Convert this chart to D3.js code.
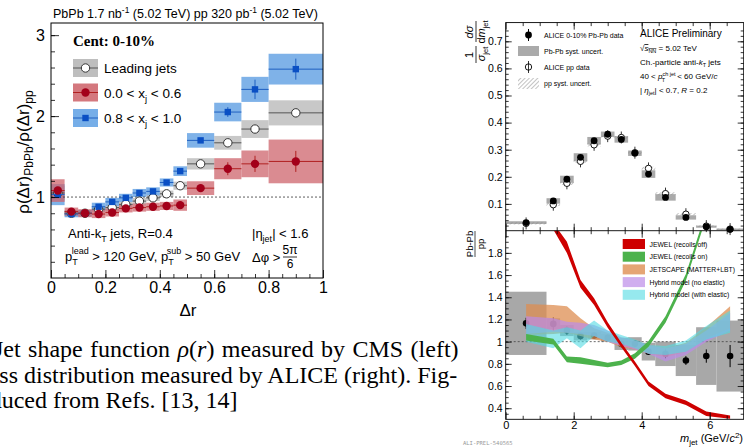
<!DOCTYPE html>
<html>
<head>
<meta charset="utf-8">
<script src="https://cdn.jsdelivr.net/npm/d3@7"></script>
<style>
body{margin:0;background:#fff;overflow:hidden;}
svg{display:block;font-family:"Liberation Sans",Arial,sans-serif;}
</style>
</head>
<body>
<script>
// ---------- CMS jet shape ratio (left) ----------
var drEdges = [0,0.05,0.1,0.15,0.2,0.25,0.3,0.35,0.4,0.45,0.5,0.6,0.7,0.8,1.0];
var leadVals = [1.05,0.80,0.80,0.85,0.87,0.91,0.95,0.99,1.04,1.14,1.41,1.67,1.84,2.04];
var leadSyst = [0.09,0.04,0.04,0.04,0.04,0.04,0.04,0.04,0.04,0.05,0.07,0.085,0.11,0.155];
var leadStat = [0.02,0.01,0.01,0.01,0.01,0.01,0.01,0.01,0.015,0.02,0.025,0.03,0.04,0.05];
var lowXjVals = [1.08,0.82,0.80,0.79,0.81,0.86,0.87,0.88,0.89,0.90,1.11,1.35,1.41,1.44];
var lowXjSyst = [0.14,0.05,0.05,0.05,0.05,0.05,0.05,0.05,0.05,0.07,0.085,0.13,0.165,0.27];
var lowXjStat = [0.03,0.02,0.02,0.02,0.02,0.02,0.02,0.02,0.02,0.025,0.04,0.08,0.10,0.13];
var highXjVals = [1.03,0.79,0.80,0.88,0.94,0.99,1.05,1.07,1.18,1.32,1.70,2.05,2.33,2.58];
var highXjSyst = [0.13,0.04,0.04,0.05,0.05,0.05,0.05,0.05,0.05,0.06,0.09,0.115,0.155,0.19];
var highXjStat = [0.03,0.01,0.01,0.015,0.015,0.015,0.015,0.02,0.02,0.025,0.03,0.06,0.12,0.13];
var drTicks = [0,0.2,0.4,0.6,0.8,1];
var rhoTicks = [1,2,3];

// ---------- ALICE jet mass (right) ----------
var mEdges = [0,1.2,1.6,2.0,2.4,2.8,3.2,3.6,4.0,4.4,5.0,5.6,6.2,7.0];
var mCenters = [0.6,1.4,1.8,2.2,2.6,3.0,3.4,3.8,4.2,4.7,5.3,5.9,6.6];
var pbpbVals = [0.031,0.111,0.191,0.272,0.333,0.357,0.338,0.287,0.210,0.124,0.050,0.016,0.006];
var pbpbSyst = [0.005,0.010,0.013,0.015,0.014,0.010,0.012,0.010,0.014,0.012,0.008,0.004,0.003];
var ppVals = [0.028,0.097,0.176,0.257,0.318,0.350,0.345,0.289,0.231,0.138,0.062,0.018,0.007];
var ppSyst = [0.004,0.005,0.006,0.006,0.006,0.005,0.005,0.005,0.006,0.005,0.004,0.003,0.002];
var ratioVals = [1.165,1.16,1.10,1.05,1.055,1.035,0.98,0.98,0.91,0.89,0.83,0.87,0.87];
var ratioStat = [0.05,0.06,0.04,0.03,0.03,0.03,0.03,0.03,0.03,0.04,0.04,0.06,0.10];
var ratioSyst = [0.285,0.05,0.05,0.04,0.035,0.035,0.055,0.06,0.08,0.11,0.14,0.26,0.32];

var jewelOffMass = [1.4,1.8,2.2,2.6,3.0,3.4,3.8,4.2,4.7,5.3,5.9,6.6];
var jewelOffVals = [2.04,1.85,1.52,1.36,1.15,0.97,0.80,0.62,0.51,0.45,0.35,0.32];
var jewelOffHalf = [0.03,0.05,0.035,0.03,0.025,0.02,0.02,0.02,0.02,0.02,0.02,0.015];
var jewelOnMass = [0.6,1.4,1.8,2.2,2.6,3.0,3.4,3.8,4.2,4.7,5.3,5.9];
var jewelOnVals = [1.04,1.0,0.84,0.83,0.81,0.79,0.81,0.87,0.98,1.2,1.58,2.15];
var jewelOnHalf = [0.03,0.025,0.025,0.03,0.025,0.02,0.02,0.025,0.025,0.03,0.03,0.03];
var jetscapeVals = [1.2,1.2,1.2,1.13,1.07,1.04,0.99,0.97,0.93,0.9,0.95,1.08,1.22];
var jetscapeHalf = [0.14,0.13,0.12,0.08,0.05,0.04,0.04,0.04,0.04,0.04,0.04,0.05,0.1];
var hybridVals = [1.15,1.15,1.13,1.12,1.1,1.05,1.0,0.97,0.93,0.88,0.93,1.05,1.18];
var hybridHalf = [0.08,0.06,0.05,0.05,0.05,0.05,0.04,0.04,0.04,0.06,0.05,0.05,0.08];
var hybridElVals = [1.08,1.02,1.08,1.02,1.12,1.05,1.02,0.98,0.93,0.92,0.96,1.08,1.18];
var hybridElHalf = [0.08,0.08,0.05,0.08,0.07,0.05,0.04,0.04,0.04,0.04,0.05,0.06,0.1];
var massTicks = [0,2,4,6];
var topTicks = [0.1,0.2,0.3,0.4,0.5,0.6,0.7];
var ratioTicks = [0.4,0.6,0.8,1,1.2,1.4,1.6,1.8];

var svg = d3.select("body").append("svg").attr("width",744).attr("height",447);
var fmt = d3.format("~g");

var defs = svg.append("defs");
var pat = defs.append("pattern").attr("id","hatch").attr("patternUnits","userSpaceOnUse")
	.attr("width",3).attr("height",3).attr("patternTransform","rotate(45)");
pat.append("line").attr("x1",0).attr("y1",0).attr("x2",0).attr("y2",3).attr("stroke","#888").attr("stroke-width",1);

// inward ROOT-like ticks
function ticks(g, axis, tr, values, len, f, fs, pad){
	axis.tickValues(values).tickSize(-len).tickPadding(pad || 3)
		.tickFormat(f ? f : function(){ return ""; });
	var t = g.append("g").attr("transform", tr).call(axis);
	t.select(".domain").remove();
	t.selectAll("line").attr("stroke","#000").attr("stroke-width",0.8);
	t.selectAll("text").attr("fill","#000").style("font-size", fs + "px")
		.style("font-family","Liberation Sans, Arial, sans-serif");
	return t;
}

function sub(t, s, fs, dy){
	t.append("tspan").attr("dy",dy).style("font-size",fs+"px").text(s);
}

/* ===================== left chart ===================== */
var xL = d3.scaleLinear().domain([0,1]).range([51,323]);
var yL = d3.scaleLinear().domain([0,3.15]).range([278,23]);
var gL = svg.append("g");

var bins = d3.range(drEdges.length - 1).map(function(i){ return [drEdges[i], drEdges[i+1]]; });

function boxes(vals, syst, col){
	gL.append("g").selectAll("rect").data(vals).join("rect")
		.attr("x", function(d,i){ return xL(bins[i][0]); })
		.attr("width", function(d,i){ return xL(bins[i][1]) - xL(bins[i][0]); })
		.attr("y", function(d,i){ return yL(d + syst[i]); })
		.attr("height", function(d,i){ return yL(d - syst[i]) - yL(d + syst[i]); })
		.attr("fill", col);
}
boxes(leadVals, leadSyst, "rgba(190,190,190,0.85)");
boxes(highXjVals, highXjSyst, "rgba(105,165,228,0.85)");
boxes(lowXjVals, lowXjSyst, "rgba(205,100,108,0.75)");

gL.append("line").attr("x1",xL(0)).attr("x2",xL(1)).attr("y1",yL(1)).attr("y2",yL(1))
	.attr("stroke","#333").attr("stroke-width",0.8).attr("stroke-dasharray","2,2");

function points(vals, stat, lineCol, shape, fill, stroke){
	var g = gL.append("g");
	g.selectAll("line.h").data(vals).join("line").attr("class","h")
		.attr("x1", function(d,i){ return xL(bins[i][0]); })
		.attr("x2", function(d,i){ return xL(bins[i][1]); })
		.attr("y1", function(d){ return yL(d); }).attr("y2", function(d){ return yL(d); })
		.attr("stroke", lineCol).attr("stroke-width",1);
	g.selectAll("line.v").data(vals).join("line").attr("class","v")
		.attr("x1", function(d,i){ return xL((bins[i][0]+bins[i][1])/2); })
		.attr("x2", function(d,i){ return xL((bins[i][0]+bins[i][1])/2); })
		.attr("y1", function(d,i){ return yL(d + stat[i]); })
		.attr("y2", function(d,i){ return yL(d - stat[i]); })
		.attr("stroke", lineCol).attr("stroke-width",1);
	if(shape == "square"){
		g.selectAll("rect").data(vals).join("rect")
			.attr("x", function(d,i){ return xL((bins[i][0]+bins[i][1])/2) - 3.2; })
			.attr("y", function(d){ return yL(d) - 3.2; })
			.attr("width",6.4).attr("height",6.4).attr("fill",fill);
	} else {
		g.selectAll("circle").data(vals).join("circle")
			.attr("cx", function(d,i){ return xL((bins[i][0]+bins[i][1])/2); })
			.attr("cy", function(d){ return yL(d); })
			.attr("r",4.2).attr("fill",fill).attr("stroke",stroke).attr("stroke-width",1);
	}
}
points(leadVals, leadStat, "#555", "circle", "#fff", "#333");
points(highXjVals, highXjStat, "#1f5fc0", "square", "#0a4fc4", "none");
points(lowXjVals, lowXjStat, "#b02020", "circle", "#a3001a", "none");

ticks(gL, d3.axisBottom(xL), "translate(0,278)", drTicks, 8, fmt, 16, 4);
ticks(gL, d3.axisBottom(xL), "translate(0,278)", d3.range(0.05,1,0.05), 4, null, 16);
ticks(gL, d3.axisLeft(yL), "translate(51,0)", rhoTicks, 8, fmt, 16, 6);
ticks(gL, d3.axisLeft(yL), "translate(51,0)", d3.range(0.2,3.1,0.2), 4, null, 16);
gL.append("rect").attr("x",51).attr("y",23).attr("width",272).attr("height",255)
	.attr("fill","none").attr("stroke","#000").attr("stroke-width",1);

// title and labels
var tt = gL.append("text").attr("x",53).attr("y",18).style("font-size","12.5px");
tt.append("tspan").text("PbPb 1.7 nb");
sub(tt, "-1", 8.5, -5);
tt.append("tspan").attr("dy",5).text(" (5.02 TeV)  pp 320 pb");
sub(tt, "-1", 8.5, -5);
tt.append("tspan").attr("dy",5).text(" (5.02 TeV)");

gL.append("text").attr("x",188).attr("y",316).attr("text-anchor","middle").style("font-size","17px").text("Δr");

var yt = gL.append("text").attr("transform","translate(29,152) rotate(-90)").attr("text-anchor","middle").style("font-size","17px");
yt.append("tspan").text("ρ(Δr)");
sub(yt, "PbPb", 12, 4);
yt.append("tspan").attr("dy",-4).text("/ρ(Δr)");
sub(yt, "pp", 12, 4);

gL.append("text").attr("x",73).attr("y",46).style("font-family","Liberation Serif, serif")
	.style("font-weight","bold").style("font-size","15px").text("Cent: 0-10%");

var legL = [
	{label:"Leading jets", fill:"rgb(190,190,190)", line:"#555", shape:"circle", mk:"#fff", st:"#333", y:68},
	{label:"0.0 < x", sub:"j", tail:" < 0.6", fill:"rgb(212,120,126)", line:"#b02020", shape:"circle", mk:"#a3001a", st:"none", y:92.5},
	{label:"0.8 < x", sub:"j", tail:" < 1.0", fill:"rgb(118,174,232)", line:"#1f5fc0", shape:"square", mk:"#0a4fc4", st:"none", y:118}
];
legL.forEach(function(e){
	gL.append("rect").attr("x",73).attr("y",e.y-9).attr("width",25).attr("height",18).attr("fill",e.fill);
	gL.append("line").attr("x1",73).attr("x2",98).attr("y1",e.y).attr("y2",e.y).attr("stroke",e.line);
	if(e.shape == "square") gL.append("rect").attr("x",82.3).attr("y",e.y-3.2).attr("width",6.4).attr("height",6.4).attr("fill",e.mk);
	else gL.append("circle").attr("cx",85.5).attr("cy",e.y).attr("r",4.2).attr("fill",e.mk).attr("stroke",e.st);
	var t = gL.append("text").attr("x",104).attr("y",e.y+5).style("font-size","13.5px").text(e.label);
	if(e.sub){
		sub(t, e.sub, 9.5, 4);
		t.append("tspan").attr("dy",-4).text(e.tail);
	}
});

var t1 = gL.append("text").attr("x",68).attr("y",238).style("font-size","13px");
t1.append("tspan").text("Anti-k");
sub(t1, "T", 9, 4);
t1.append("tspan").attr("dy",-4).text(" jets, R=0.4");

var t2 = gL.append("text").attr("x",65).attr("y",261).style("font-size","13px");
t2.append("tspan").text("p");
sub(t2, "T", 9, 4);
t2.append("tspan").attr("dy",-11).attr("dx",-6).style("font-size","9px").text("lead");
t2.append("tspan").attr("dy",7).text(" > 120 GeV, p");
sub(t2, "T", 9, 4);
t2.append("tspan").attr("dy",-11).attr("dx",-6).style("font-size","9px").text("sub");
t2.append("tspan").attr("dy",7).text(" > 50 GeV");

var t3 = gL.append("text").attr("x",252).attr("y",238).style("font-size","13px");
t3.append("tspan").text("|η");
sub(t3, "jet", 9, 4);
t3.append("tspan").attr("dy",-4).text("| < 1.6");

gL.append("text").attr("x",252).attr("y",262).style("font-size","13px").text("Δφ >");
gL.append("text").attr("x",290).attr("y",254).attr("text-anchor","middle").style("font-size","12px").text("5π");
gL.append("line").attr("x1",283).attr("x2",297).attr("y1",257).attr("y2",257).attr("stroke","#000").attr("stroke-width",0.8);
gL.append("text").attr("x",290).attr("y",268).attr("text-anchor","middle").style("font-size","12px").text("6");

/* ===================== caption ===================== */
var cap = svg.append("g").style("font-family","Liberation Serif, 'Times New Roman', serif").style("font-size","24px");
var c1 = cap.append("text").attr("x",-6).attr("y",357).style("word-spacing","1.4px");
c1.append("tspan").text("Jet shape function ");
c1.append("tspan").style("font-style","italic").text("ρ");
c1.append("tspan").text("(");
c1.append("tspan").style("font-style","italic").text("r");
c1.append("tspan").text(") measured by CMS (left)");
cap.append("text").attr("x",-30).attr("y",383).text("mass distribution measured by ALICE (right). Fig-");
cap.append("text").attr("x",-61).attr("y",408).text("reproduced from Refs. [13, 14]");

/* ===================== right chart ===================== */
var xm = d3.scaleLinear().domain([0,7]).range([505.7,743.7]);
var yTop = d3.scaleLinear().domain([0,0.769]).range([231,22.6]);
var yBot = d3.scaleLinear().domain([0.3,2.0]).range([419.3,230.7]);
var gR = svg.append("g");

defs.append("clipPath").attr("id","clipBot").append("rect")
	.attr("x",505.7).attr("y",230.7).attr("width",238).attr("height",188.6);

var mBins = d3.range(mEdges.length - 1).map(function(i){ return [mEdges[i], mEdges[i+1]]; });

// top panel: spectra
var gt = gR.append("g");
gt.selectAll("rect.pb").data(pbpbVals).join("rect").attr("class","pb")
	.attr("x", function(d,i){ return xm(mBins[i][0]); })
	.attr("width", function(d,i){ return xm(mBins[i][1]) - xm(mBins[i][0]); })
	.attr("y", function(d,i){ return yTop(d + pbpbSyst[i]); })
	.attr("height", function(d,i){ return yTop(d - pbpbSyst[i]) - yTop(d + pbpbSyst[i]); })
	.attr("fill","#aaaaaa");
gt.selectAll("rect.pp").data(ppVals).join("rect").attr("class","pp")
	.attr("x", function(d,i){ return xm(mBins[i][0]); })
	.attr("width", function(d,i){ return xm(mBins[i][1]) - xm(mBins[i][0]); })
	.attr("y", function(d,i){ return yTop(d + ppSyst[i]); })
	.attr("height", function(d,i){ return yTop(d - ppSyst[i]) - yTop(d + ppSyst[i]); })
	.attr("fill","url(#hatch)");
gt.selectAll("line.ppv").data(ppVals).join("line").attr("class","ppv")
	.attr("x1", function(d,i){ return xm(mCenters[i]); }).attr("x2", function(d,i){ return xm(mCenters[i]); })
	.attr("y1", function(d){ return yTop(d) - 6; }).attr("y2", function(d){ return yTop(d) + 6; })
	.attr("stroke","#000").attr("stroke-width",0.8);
gt.selectAll("circle.pp").data(ppVals).join("circle").attr("class","pp")
	.attr("cx", function(d,i){ return xm(mCenters[i]); }).attr("cy", function(d){ return yTop(d); })
	.attr("r",3.2).attr("fill","#fff").attr("stroke","#000").attr("stroke-width",0.9);
gt.selectAll("circle.pb").data(pbpbVals).join("circle").attr("class","pb")
	.attr("cx", function(d,i){ return xm(mCenters[i]); }).attr("cy", function(d){ return yTop(d); })
	.attr("r",3.4).attr("fill","#000");

// bottom panel: ratio and models
var gb = gR.append("g").attr("clip-path","url(#clipBot)");
gb.selectAll("rect").data(ratioVals).join("rect")
	.attr("x", function(d,i){ return xm(mBins[i][0]); })
	.attr("width", function(d,i){ return xm(mBins[i][1]) - xm(mBins[i][0]); })
	.attr("y", function(d,i){ return yBot(d + ratioSyst[i]); })
	.attr("height", function(d,i){ return yBot(d - ratioSyst[i]) - yBot(d + ratioSyst[i]); })
	.attr("fill","#a8a8a8");
gb.append("line").attr("x1",xm(0)).attr("x2",xm(7)).attr("y1",yBot(1)).attr("y2",yBot(1))
	.attr("stroke","#444").attr("stroke-width",0.8).attr("stroke-dasharray","2,2");
gb.selectAll("line.err").data(ratioVals).join("line").attr("class","err")
	.attr("x1", function(d,i){ return xm(mCenters[i]); }).attr("x2", function(d,i){ return xm(mCenters[i]); })
	.attr("y1", function(d,i){ return yBot(d + ratioStat[i]); })
	.attr("y2", function(d,i){ return yBot(d - ratioStat[i]); })
	.attr("stroke","#000").attr("stroke-width",1);
gb.selectAll("circle").data(ratioVals).join("circle")
	.attr("cx", function(d,i){ return xm(mCenters[i]); }).attr("cy", function(d){ return yBot(d); })
	.attr("r",3.3).attr("fill","#000");

function band(mass, vals, half, col, op){
	var area = d3.area()
		.x(function(d,i){ return xm(mass[i]); })
		.y0(function(d,i){ return yBot(d - half[i]); })
		.y1(function(d,i){ return yBot(d + half[i]); });
	gb.append("path").datum(vals).attr("d", area).attr("fill", col).attr("fill-opacity", op);
}
band(mCenters, jetscapeVals, jetscapeHalf, "rgb(222,142,82)", 0.75);
band(mCenters, hybridVals, hybridHalf, "rgb(188,140,232)", 0.7);
band(mCenters, hybridElVals, hybridElHalf, "rgb(80,218,226)", 0.6);
band(jewelOnMass, jewelOnVals, jewelOnHalf, "rgb(76,178,76)", 1);
band(jewelOffMass, jewelOffVals, jewelOffHalf, "rgb(206,0,0)", 1);

// axes
ticks(gR, d3.axisLeft(yTop), "translate(505.7,0)", topTicks, 6, fmt, 10.5, 3);
ticks(gR, d3.axisLeft(yTop), "translate(505.7,0)", d3.range(0.02,0.76,0.02), 3, null, 10);
ticks(gR, d3.axisRight(yTop), "translate(743.7,0)", topTicks, 6, null, 10);
ticks(gR, d3.axisRight(yTop), "translate(743.7,0)", d3.range(0.02,0.76,0.02), 3, null, 10);
ticks(gR, d3.axisLeft(yBot), "translate(505.7,0)", ratioTicks, 6, fmt, 10.5, 3);
ticks(gR, d3.axisLeft(yBot), "translate(505.7,0)", d3.range(0.35,1.99,0.05), 3, null, 10);
ticks(gR, d3.axisRight(yBot), "translate(743.7,0)", ratioTicks, 6, null, 10);
ticks(gR, d3.axisRight(yBot), "translate(743.7,0)", d3.range(0.35,1.99,0.05), 3, null, 10);
[22.6, 230.7].forEach(function(yy){
	ticks(gR, d3.axisTop(xm), "translate(0," + yy + ")", massTicks, 7, null, 10);
	ticks(gR, d3.axisTop(xm), "translate(0," + yy + ")", d3.range(0.5,7,0.5), 3.5, null, 10);
});
[230.7, 419.3].forEach(function(yy){
	ticks(gR, d3.axisBottom(xm), "translate(0," + yy + ")", massTicks, 7, yy > 300 ? fmt : null, 11, 2);
	ticks(gR, d3.axisBottom(xm), "translate(0," + yy + ")", d3.range(0.5,7,0.5), 3.5, null, 10);
});
gR.append("rect").attr("x",505.7).attr("y",22.6).attr("width",238).attr("height",396.7)
	.attr("fill","none").attr("stroke","#000").attr("stroke-width",0.9);
gR.append("line").attr("x1",505.7).attr("x2",743.7).attr("y1",230.7).attr("y2",230.7).attr("stroke","#000").attr("stroke-width",0.9);

// y titles
var ya = gR.append("g").attr("transform","translate(476,41) rotate(-90)").style("font-size","11px");
ya.append("text").attr("x",-14).attr("y",-3).attr("text-anchor","middle").text("1");
ya.append("line").attr("x1",-22).attr("x2",-5).attr("y1",0).attr("y2",0).attr("stroke","#000").attr("stroke-width",0.8);
var sj = ya.append("text").attr("x",-13).attr("y",9).attr("text-anchor","middle");
sj.append("tspan").style("font-style","italic").text("σ");
sub(sj, "jet", 7.5, 2.5);
ya.append("text").attr("x",9).attr("y",-3).attr("text-anchor","middle").style("font-style","italic").text("dσ");
ya.append("line").attr("x1",-1).attr("x2",20).attr("y1",0).attr("y2",0).attr("stroke","#000").attr("stroke-width",0.8);
var dm = ya.append("text").attr("x",9).attr("y",9).attr("text-anchor","middle");
dm.append("tspan").text("d");
dm.append("tspan").style("font-style","italic").text("m");
sub(dm, "jet", 7.5, 2.5);

var yb = gR.append("g").attr("transform","translate(475,244) rotate(-90)").style("font-size","9.5px");
yb.append("text").attr("x",0).attr("y",-2).attr("text-anchor","middle").text("Pb-Pb");
yb.append("line").attr("x1",-13).attr("x2",13).attr("y1",0).attr("y2",0).attr("stroke","#000").attr("stroke-width",0.7);
yb.append("text").attr("x",0).attr("y",8.5).attr("text-anchor","middle").text("pp");

var xt = gR.append("text").attr("x",743).attr("y",442).attr("text-anchor","end").style("font-size","11px");
xt.append("tspan").style("font-style","italic").text("m");
sub(xt, "jet", 8, 3);
xt.append("tspan").attr("dy",-3).text(" (GeV/");
xt.append("tspan").style("font-style","italic").text("c");
xt.append("tspan").attr("dy",-4).style("font-size","8px").text("2");
xt.append("tspan").attr("dy",4).text(")");

gR.append("text").attr("x",463).attr("y",445).style("font-family","DejaVu Sans Mono, monospace")
	.style("font-size","5.5px").attr("fill","#999").text("ALI-PREL-540565");

// top legend
var lt = gR.append("g").style("font-size","7px");
lt.append("line").attr("x1",528.5).attr("x2",528.5).attr("y1",29).attr("y2",41).attr("stroke","#000");
lt.append("circle").attr("cx",528.5).attr("cy",35).attr("r",3.4).attr("fill","#000");
lt.append("text").attr("x",544).attr("y",38).text("ALICE 0-10% Pb-Pb data");
lt.append("rect").attr("x",518).attr("y",46).attr("width",21).attr("height",10).attr("fill","#aaaaaa");
lt.append("text").attr("x",544).attr("y",54).text("Pb-Pb syst. uncert.");
lt.append("line").attr("x1",528.5).attr("x2",528.5).attr("y1",61).attr("y2",73).attr("stroke","#000").attr("stroke-width",0.8);
lt.append("circle").attr("cx",528.5).attr("cy",67).attr("r",3.2).attr("fill","none").attr("stroke","#000").attr("stroke-width",0.9);
lt.append("text").attr("x",544).attr("y",70).text("ALICE pp data");
lt.append("rect").attr("x",518).attr("y",78).attr("width",21).attr("height",11).attr("fill","url(#hatch)");
lt.append("text").attr("x",544).attr("y",86).text("pp syst. uncert.");

var info = gR.append("g").style("font-size","8px");
info.append("text").attr("x",640).attr("y",37).style("font-size","10px").text("ALICE Preliminary");
var s1 = info.append("text").attr("x",640).attr("y",51);
s1.append("tspan").text("√");
s1.append("tspan").style("font-style","italic").style("text-decoration","overline").text("s");
s1.append("tspan").attr("dy",2).style("font-size","5.5px").style("text-decoration","overline").text("NN");
s1.append("tspan").attr("dy",-2).text(" = 5.02 TeV");
var s2 = info.append("text").attr("x",640).attr("y",65);
s2.append("tspan").text("Ch.-particle anti-");
s2.append("tspan").style("font-style","italic").text("k");
sub(s2, "T", 5.5, 2);
s2.append("tspan").attr("dy",-2).text(" jets");
var s3 = info.append("text").attr("x",640).attr("y",79);
s3.append("tspan").text("40 < ");
s3.append("tspan").style("font-style","italic").text("p");
s3.append("tspan").attr("dy",-3.5).style("font-size","5.5px").text("ch jet");
s3.append("tspan").attr("dy",6).attr("dx",-14).style("font-size","5.5px").text("T");
s3.append("tspan").attr("dy",-2.5).attr("dx",10).text(" < 60 GeV/");
s3.append("tspan").style("font-style","italic").text("c");
var s4 = info.append("text").attr("x",640).attr("y",93);
s4.append("tspan").text("| ");
s4.append("tspan").style("font-style","italic").text("η");
sub(s4, "jet", 5.5, 2);
s4.append("tspan").attr("dy",-2).text("| < 0.7,   ");
s4.append("tspan").style("font-style","italic").text("R");
s4.append("tspan").text(" = 0.2");

// model legend
var models = [
	{label:"JEWEL (recoils off)", col:"rgb(206,0,0)", op:1},
	{label:"JEWEL (recoils on)", col:"rgb(76,178,76)", op:1},
	{label:"JETSCAPE (MATTER+LBT)", col:"rgb(222,142,82)", op:0.8},
	{label:"Hybrid model (no elastic)", col:"rgb(188,140,232)", op:0.7},
	{label:"Hybrid model (with elastic)", col:"rgb(80,218,226)", op:0.6}
];
var lb = gR.append("g").style("font-size","6.8px");
models.forEach(function(m, i){
	var yy = 244 + i * 12.7;
	lb.append("rect").attr("x",622.7).attr("y",yy-5).attr("width",22.3).attr("height",10).attr("fill",m.col).attr("fill-opacity",m.op);
	lb.append("text").attr("x",649.5).attr("y",yy+2.5).text(m.label);
});
</script>
</body>
</html>
